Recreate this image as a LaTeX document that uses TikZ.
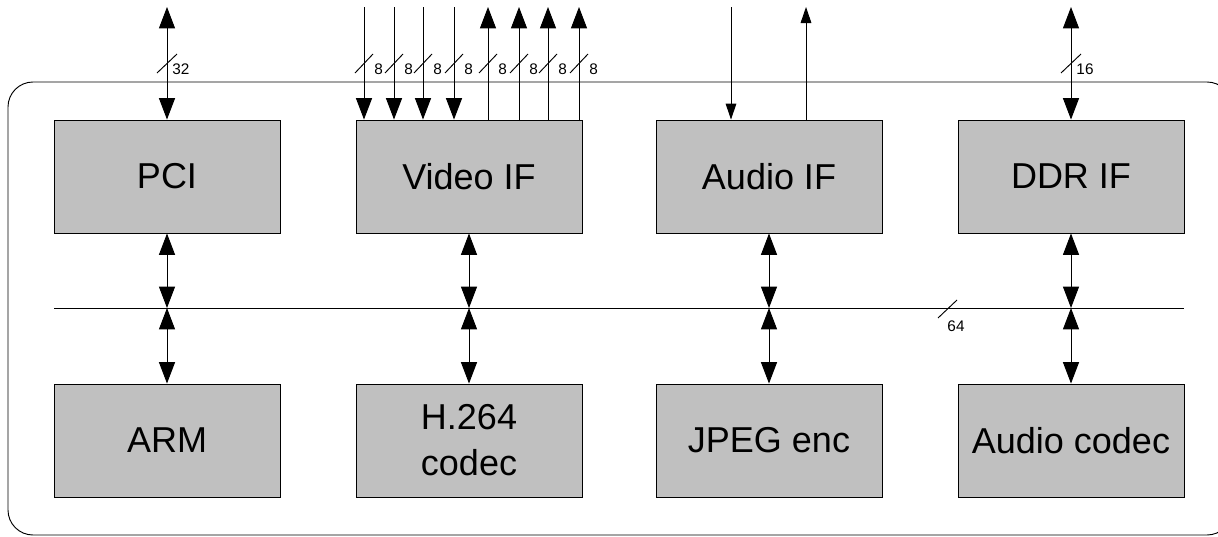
\documentclass[tikz,border=0pt]{standalone}
\usepackage{fontspec}
\setmainfont{Liberation Sans}
\usetikzlibrary{arrows.meta,positioning}

\definecolor{blockgray}{RGB}{192,192,192}
\tikzset{
  block/.style={draw, fill=blockgray, minimum width=169.5pt, minimum height=84.75pt,
    inner sep=0pt, align=center, font=\fontsize{27}{34.5}\selectfont},
  width/.style={font=\fontsize{11.5}{13}\selectfont, inner sep=0pt, anchor=west},
  >={Triangle[length=16pt,width=12pt]},
  thinhead/.tip={Triangle[length=12pt,width=8pt]}
}

\begin{document}
\begin{tikzpicture}[x=0.75pt, y=-0.75pt, line width=0.7pt]
  \useasboundingbox (0,0) rectangle (1218,536);
  \draw [rounded corners=18.75pt] (8,82) rectangle (1232,535);

  % blocks
  \node [block] (pci)    at (167,176.5)  {PCI};
  \node [block] (vif)    at (469,176.5)  {Video IF};
  \node [block] (aif)    at (769,176.5)  {Audio IF};
  \node [block] (ddr)    at (1071,176.5) {DDR IF};
  \node [block] (arm)    at (167,440.5)  {ARM};
  \node [block] (h264)   at (469,440.5)  {H.264\\codec};
  \node [block] (jpeg)   at (769,440.5)  {JPEG enc};
  \node [block] (acodec) at (1071,440.5) {Audio codec};

  % external pins
  \coordinate (pcip) at (167,7);
  \coordinate (vi1) at (364,7);
  \coordinate (vi2) at (394,7);
  \coordinate (vi3) at (423,7);
  \coordinate (vi4) at (454,7);
  \coordinate (vo1) at (488,7);
  \coordinate (vo2) at (519,7);
  \coordinate (vo3) at (548,7);
  \coordinate (vo4) at (579,7);
  \coordinate (ai) at (731,7);
  \coordinate (ao) at (806,7);
  \coordinate (ddrp) at (1071,7);

  \draw [<->] (pcip) -- (pci);
  \draw [->] (vi1) -- (vi1 |- vif.north);
  \draw [->] (vi2) -- (vi2 |- vif.north);
  \draw [->] (vi3) -- (vi3 |- vif.north);
  \draw [->] (vi4) -- (vi4 |- vif.north);
  \draw [<-] (vo1) -- (vo1 |- vif.north);
  \draw [<-] (vo2) -- (vo2 |- vif.north);
  \draw [<-] (vo3) -- (vo3 |- vif.north);
  \draw [<-] (vo4) -- (vo4 |- vif.north);
  \draw [-thinhead] (ai) -- (ai |- aif.north);
  \draw [thinhead-] (ao) -- (ao |- aif.north);
  \draw [<->] (ddrp) -- (ddr);

  % bus widths
  \draw (157,73) -- (177,54);   \node [width] (w32) at (172,69) {32};
  \draw (355,73) -- (373,54);   \node [width] (w8a) at (374,69) {8};
  \draw (385,73) -- (403,54);   \node [width] (w8b) at (404,69) {8};
  \draw (414,73) -- (432,54);   \node [width] (w8c) at (433,69) {8};
  \draw (445,73) -- (463,54);   \node [width] (w8d) at (464,69) {8};
  \draw (479,73) -- (497,54);   \node [width] (w8e) at (498,69) {8};
  \draw (510,73) -- (528,54);   \node [width] (w8f) at (529,69) {8};
  \draw (539,73) -- (557,54);   \node [width] (w8g) at (558,69) {8};
  \draw (570,73) -- (588,54);   \node [width] (w8h) at (589,69) {8};
  \draw (1061,73) -- (1081,54); \node [width] (w16) at (1076,69) {16};

  % internal bus
  \coordinate (busl) at (54,308);
  \coordinate (busr) at (1184,308);
  \draw (busl) -- (busr);
  \draw (938,318) -- (957,300); \node [width] (w64) at (947,326) {64};

  \draw [<->] (pci) -- (pci |- busl);
  \draw [<->] (vif) -- (vif |- busl);
  \draw [<->] (aif) -- (aif |- busl);
  \draw [<->] (ddr) -- (ddr |- busl);
  \draw [<->] (arm |- busl) -- (arm);
  \draw [<->] (h264 |- busl) -- (h264);
  \draw [<->] (jpeg |- busl) -- (jpeg);
  \draw [<->] (acodec |- busl) -- (acodec);
\end{tikzpicture}
\end{document}
